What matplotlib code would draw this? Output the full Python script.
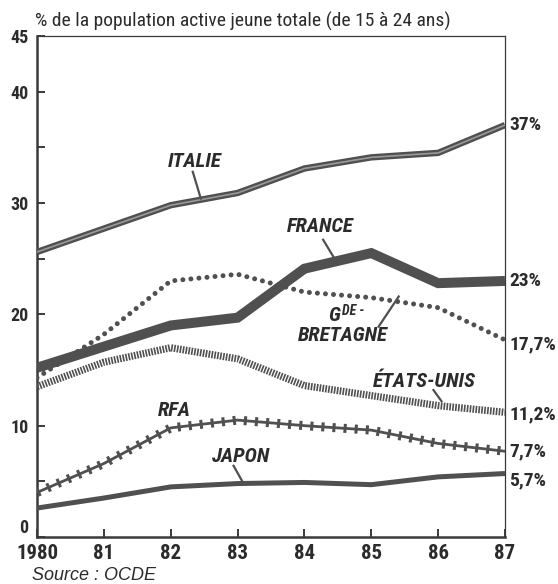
import matplotlib
matplotlib.use("Agg")
import matplotlib.pyplot as plt
from matplotlib import font_manager

plt.rcParams['lines.scale_dashes'] = False

years = [1980, 1981, 1982, 1983, 1984, 1985, 1986, 1987]
year_labels = ["1980", "81", "82", "83", "84", "85", "86", "87"]

italie = [25.6, 27.7, 29.8, 30.9, 33.1, 34.1, 34.5, 37.0]
france = [15.2, 17.1, 19.0, 19.7, 24.1, 25.5, 22.8, 23.0]
gb = [14.3, 18.2, 23.0, 23.6, 22.0, 21.5, 20.6, 17.7]
usa = [13.5, 15.7, 17.0, 16.0, 13.6, 12.7, 11.8, 11.2]
rfa = [4.0, 6.6, 9.8, 10.5, 10.0, 9.6, 8.4, 7.7]
japon = [2.6, 3.5, 4.5, 4.8, 4.9, 4.7, 5.4, 5.7]

end_labels = ["37%", "23%", "17,7%", "11,2%", "7,7%", "5,7%"]
end_values = [italie[-1], france[-1], gb[-1], usa[-1], rfa[-1], japon[-1]]

INK = '#505050'
TXT = '#2b2b2b'

names = {f.name for f in font_manager.fontManager.ttflist}
NARROW = [n for n in ['Liberation Sans Narrow', 'Roboto Condensed', 'Open Sans Condensed',
                      'DejaVu Sans'] if n in names] or ['DejaVu Sans']
COND = dict(fontfamily=NARROW, fontstretch='condensed')

fig = plt.figure(figsize=(5.58, 5.84), dpi=100)
ax = fig.add_axes([37/558, 1-537/584, (505-37)/558, (537-36)/584])
ax.set_xlim(1980, 1987)
ax.set_ylim(0, 45)

# Italy: outlined double stroke
ax.plot(years, italie, color=INK, lw=4.6, solid_capstyle='butt', zorder=3)
ax.plot(years, italie, color='#9a9a9a', lw=1.2, solid_capstyle='butt', zorder=4)
# France: heavy band
ax.plot(years, france, color=INK, lw=7.2, solid_joinstyle='miter', solid_capstyle='butt', zorder=3)
# Great Britain: round dots
ax.plot(years, gb, color=INK, lw=3.6, linestyle=(0, (0.01, 5.8)),
        dash_capstyle='round', zorder=3)
# United States: dense short bars
ax.plot(years, usa, color=INK, lw=5.2, linestyle=(0, (1.2, 0.9)),
        dash_capstyle='butt', zorder=3)
# West Germany: chain of crosses
ax.plot(years, rfa, color=INK, lw=2.0, zorder=3)
ax.plot(years, rfa, color=INK, lw=6.5, linestyle=(0, (2.2, 5.8)),
        dash_capstyle='butt', zorder=3)
# Japan
ax.plot(years, japon, color=INK, lw=3.6, solid_capstyle='butt', zorder=3)

# axes frame and ticks
for side in ['left', 'bottom']:
    ax.spines[side].set_linewidth(1.8)
for side in ['top', 'right']:
    ax.spines[side].set_linewidth(0.9)
for s in ax.spines.values():
    s.set_color('#3a3a3a')

ax.set_xticks(years)
ax.set_xticklabels(year_labels, fontweight='bold', fontsize=15, color=TXT, **COND)
ax.set_yticks([0, 5, 10, 15, 20, 25, 30, 35, 40, 45])
ax.set_yticklabels(["0", "", "10", "", "20", "", "30", "", "40", "45"],
                   fontweight='bold', fontsize=13, color=TXT, **COND)
ax.tick_params(axis='x', direction='in', length=6, width=1.4, pad=5, colors='#3a3a3a')
ax.tick_params(axis='y', direction='in', length=6, width=1.4, pad=6, colors='#3a3a3a')
for lbl in ax.get_xticklabels() + ax.get_yticklabels():
    lbl.set_color(TXT)
# lift the bottom "0" so it clears the first year label
ax.get_yticklabels()[0].set_va('bottom')

# value labels at the right edge
offsets = [0, 0, -0.4, -0.2, 0, -0.6]
for txt, v, off in zip(end_labels, end_values, offsets):
    ax.annotate(txt, xy=(1987, v + off), xytext=(3, 0), textcoords='offset points',
                ha='left', va='center', fontweight='bold',
                fontsize=14, color=TXT, annotation_clip=False, **COND)

# series names with leader lines
name_kw = dict(fontweight='bold', fontstyle='italic',
               fontsize=15, color=TXT, va='center', zorder=5, **COND)
ax.text(1982.36, 33.7, "ITALIE", ha='center', **name_kw)
ax.plot([1982.33, 1982.45], [32.8, 30.4], color=INK, lw=1.6, zorder=4)
ax.text(1984.24, 27.9, "FRANCE", ha='center', **name_kw)
ax.plot([1984.28, 1984.45], [26.7, 25.0], color=INK, lw=1.6, zorder=4)
g = ax.text(1984.36, 19.9, "G", ha='left', **name_kw)
ax.annotate("DE -", xy=(1, 0.75), xycoords=g, xytext=(1, 0), textcoords='offset points',
            ha='left', va='center', fontweight='bold', fontstyle='italic',
            fontsize=10, color=TXT, zorder=5, **COND)
ax.text(1984.58, 18.1, "BRETAGNE", ha='center', **name_kw)
ax.plot([1985.11, 1985.41], [18.9, 21.6], color=INK, lw=1.6, zorder=4)
ax.text(1985.80, 14.0, "ÉTATS-UNIS", ha='center', **name_kw)
ax.plot([1985.93, 1986.05], [13.2, 12.2], color=INK, lw=1.6, zorder=4)
ax.text(1982.06, 11.4, "RFA", ha='center', **name_kw)
ax.text(1983.06, 7.2, "JAPON", ha='center', **name_kw)
ax.plot([1982.94, 1983.08], [6.4, 4.9], color=INK, lw=1.6, zorder=4)

fig.text(35/558, 1-21/584, "% de la population active jeune totale (de 15 à 24 ans)",
         fontsize=14, color=TXT, ha='left', va='center', **COND)
fig.text(32/558, 1-576/584, "Source : OCDE", fontfamily=['Liberation Sans', 'DejaVu Sans'],
         fontstyle='italic', fontsize=13, color=TXT, ha='left', va='center')

fig.savefig("out.png", dpi=100, facecolor='white')
